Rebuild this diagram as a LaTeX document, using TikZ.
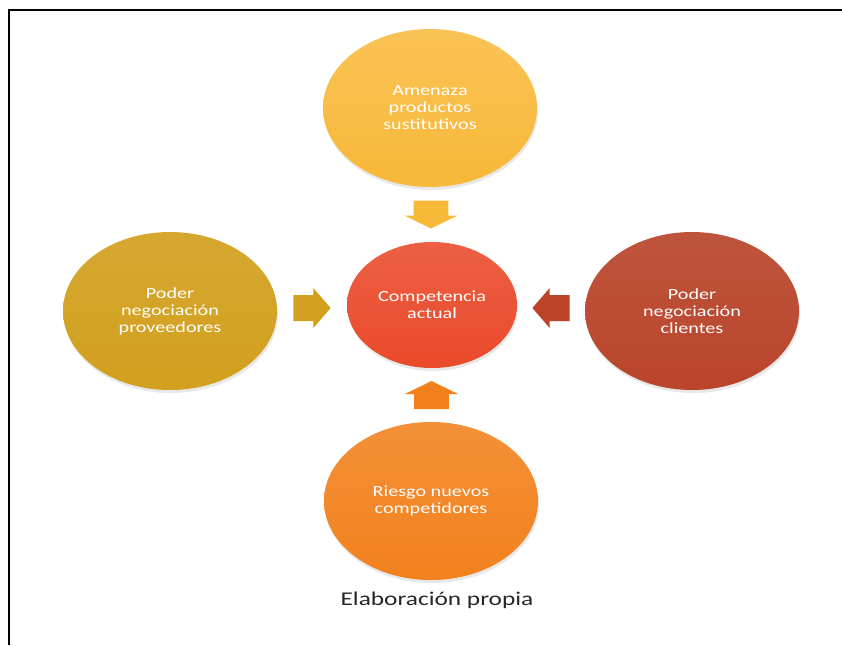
\documentclass[tikz,border=0pt]{standalone}
\usepackage{fontspec}
\setmainfont{Carlito}[FakeStretch=1.3]
\usetikzlibrary{calc,shapes.geometric,shadows}

\definecolor{amarillo}{HTML}{F8B838}
\definecolor{oro}{HTML}{D2A01E}
\definecolor{ladrillo}{HTML}{B9452B}
\definecolor{naranja}{HTML}{F2811D}
\definecolor{rojo}{HTML}{EA4A2A}

% block arrow: centre, angle, colour
\newcommand{\flecha}[3]{%
 \fill[#3,shift={(#1)},xscale=1.33,rotate=#2] (-14,-13)--(1,-13)--(1,-20)--(14,0)--(1,20)--(1,13)--(-14,13)--cycle;}

\begin{document}
\begin{tikzpicture}[x=1pt,y=-1pt,
 fuerza/.style={ellipse,minimum width=214,minimum height=158,inner sep=0pt,align=center,
  text=white,font=\fontsize{15.5}{17}\selectfont,
  drop shadow={opacity=.18,shadow xshift=1pt,shadow yshift=-3pt}}]
\useasboundingbox (0,0) rectangle (842,645);
\draw[line width=2.5pt] (9,645)--(9,10)--(842,10);
\node[fuerza,top color=amarillo!85!white,bottom color=amarillo] (sust) at (430,108) {Amenaza\\productos\\sustitutivos};
\node[fuerza,top color=oro!92!white,bottom color=oro] (prov) at (170,311) {Poder\\negociación\\proveedores};
\node[fuerza,top color=ladrillo!92!white,bottom color=ladrillo] (clie) at (692,311) {Poder\\negociación\\clientes};
\node[fuerza,top color=naranja!88!white,bottom color=naranja] (ries) at (431,501) {Riesgo nuevos\\competidores};
\node[fuerza,minimum width=170,minimum height=126,top color=rojo!88!white,bottom color=rojo] (core) at (432,305) {Competencia\\actual};
\coordinate (fs) at ($(sust.south)!.5!(core.north)$);
\coordinate (fp) at ($(prov.east)!.5!(core.west)$);
\coordinate (fc) at ($(clie.west)!.5!(core.east)$);
\coordinate (fr) at ($(ries.north)!.5!(core.south)$);
\flecha{fs}{-90}{amarillo}
\flecha{fp}{0}{oro}
\flecha{fc}{180}{ladrillo!95!red}
\flecha{fr}{90}{naranja}
\node[font=\fontsize{19.5}{22}\selectfont,text=black!85] (fuente) at (437,600) {Elaboración propia};
\end{tikzpicture}
\end{document}
